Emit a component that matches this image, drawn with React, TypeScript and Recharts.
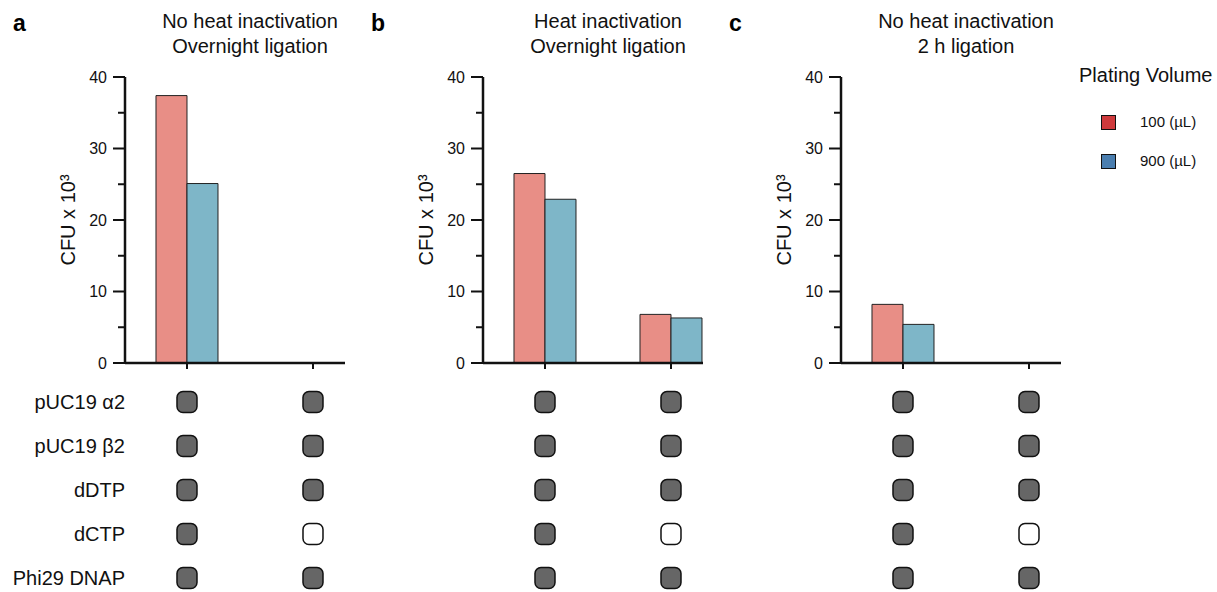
import { BarChart, Bar, XAxis, YAxis, ScatterChart, Scatter, Legend } from "recharts";

const FONT = "'Liberation Sans', Arial, Helvetica, sans-serif";

// panel headings
const panelLetters = ["a", "b", "c"];
const panelTitles = [
  ["No heat inactivation", "Overnight ligation"],
  ["Heat inactivation", "Overnight ligation"],
  ["No heat inactivation", "2 h ligation"],
];

// two reaction lanes per panel
const lanes = [0, 1];

// CFU x 10^3 by plating volume
const volume100 = [
  [37.4, 0],
  [26.5, 6.8],
  [8.2, 0],
];
const volume900 = [
  [25.1, 0],
  [22.9, 6.3],
  [5.4, 0],
];

const yTicks = [0, 5, 10, 15, 20, 25, 30, 35, 40];

// reagent matrix below the bars
const reagents = ["pUC19 α2", "pUC19 β2", "dDTP", "dCTP", "Phi29 DNAP"];
const lane1Included = [1, 1, 1, 1, 1];
const lane2Included = [1, 1, 1, 0, 1];

const legendItems = [
  { label: "100 (µL)", color: "#CF3A3C" },
  { label: "900 (µL)", color: "#4A7EAF" },
];

const X_DOMAIN = [-0.492, 1.254];
const PANEL_STEP = 358;

const YTick = (props: any) => {
  const { x, y, payload } = props;
  const major = payload.value % 10 === 0;
  return (
    <g>
      <line x1={x - (major ? 12 : 7)} x2={x} y1={y} y2={y} stroke="#111" strokeWidth={2} />
      {major && (
        <text x={x - 18} y={y} dy="0.36em" textAnchor="end" fontSize={16} fill="#111" fontFamily={FONT}>
          {payload.value}
        </text>
      )}
    </g>
  );
};

const YLabel = (props: any) => {
  const { viewBox } = props;
  const cx = viewBox.x + viewBox.width - 57;
  const cy = viewBox.y + viewBox.height / 2;
  return (
    <text
      x={cx}
      y={cy}
      transform={`rotate(-90 ${cx} ${cy})`}
      textAnchor="middle"
      dy="0.36em"
      fontSize={20}
      fill="#111"
      fontFamily={FONT}
    >
      CFU x 10³
    </text>
  );
};

const ReagentBox = (props: any) => {
  const { cx, cy, payload } = props;
  return (
    <rect
      x={cx - 10}
      y={cy - 10.5}
      width={20}
      height={21}
      rx={6}
      fill={payload.on ? "#666666" : "#ffffff"}
      stroke="#111"
      strokeWidth={1.5}
    />
  );
};

const LegendBox = () => (
  <div style={{ position: "relative", width: 160, height: 120, fontFamily: FONT, color: "#111" }}>
    <div style={{ position: "absolute", left: 0, top: 5, fontSize: 20, lineHeight: "20px", whiteSpace: "nowrap" }}>
      Plating Volume
    </div>
    {legendItems.map((it, i) => (
      <div key={it.label}>
        <div
          style={{
            position: "absolute",
            left: 22,
            top: 55 + i * 38.5,
            width: 13,
            height: 13,
            background: it.color,
            border: "1px solid #111",
          }}
        />
        <div
          style={{
            position: "absolute",
            left: 61,
            top: 53 + i * 38.5,
            fontSize: 15,
            lineHeight: "17px",
            whiteSpace: "nowrap",
          }}
        >
          {it.label}
        </div>
      </div>
    ))}
  </div>
);

function Panel({ index }: { index: number }) {
  const left = index * PANEL_STEP;
  const data = lanes.map((lane, i) => ({
    lane,
    v100: volume100[index][i],
    v900: volume900[index][i],
  }));
  const matrix = reagents.flatMap((r, i) => [
    { lane: lanes[0], reagent: r, on: lane1Included[i] },
    { lane: lanes[1], reagent: r, on: lane2Included[i] },
  ]);
  const last = index === 2;
  return (
    <>
      <div style={{ position: "absolute", left: left + 13, top: 12, fontSize: 23, fontWeight: 700, lineHeight: "23px", fontFamily: FONT }}>
        {panelLetters[index]}
      </div>
      <div
        style={{
          position: "absolute",
          left: left + 250 - 150,
          width: 300,
          top: 9,
          textAlign: "center",
          fontSize: 20,
          lineHeight: "25px",
          fontFamily: FONT,
          color: "#111",
        }}
      >
        {panelTitles[index].map((t) => (
          <div key={t}>{t}</div>
        ))}
      </div>
      <div style={{ position: "absolute", left, top: 0 }}>
        <BarChart
          width={last ? 501 : 345}
          height={380}
          data={data}
          barGap={0}
          margin={{ top: 77, right: last ? 156 : 0, bottom: 0, left: 0 }}
        >
          <XAxis
            type="number"
            dataKey="lane"
            domain={X_DOMAIN}
            allowDataOverflow
            ticks={lanes}
            height={17}
            tickSize={6}
            tickFormatter={() => ""}
            axisLine={{ stroke: "#111", strokeWidth: 2.5 }}
            tickLine={{ stroke: "#111", strokeWidth: 2 }}
          />
          <YAxis
            domain={[0, 40]}
            ticks={yTicks}
            interval={0}
            width={125}
            tickSize={0}
            tickMargin={0}
            tickLine={false}
            tick={<YTick />}
            axisLine={{ stroke: "#111", strokeWidth: 2.5 }}
            label={<YLabel />}
          />
          <Bar dataKey="v100" name="100 (µL)" barSize={31} fill="#E88E86" stroke="#222" strokeWidth={1} isAnimationActive={false} />
          <Bar dataKey="v900" name="900 (µL)" barSize={31} fill="#7EB6C8" stroke="#222" strokeWidth={1} isAnimationActive={false} />
          {last && (
            <Legend
              layout="vertical"
              align="center"
              verticalAlign="middle"
              content={<LegendBox />}
              wrapperStyle={{ left: 363, top: 60, width: 160, height: 120 }}
            />
          )}
        </BarChart>
      </div>
      <div style={{ position: "absolute", left, top: 380 }}>
        <ScatterChart width={345} height={220} margin={{ top: 0, right: 0, bottom: 0, left: 0 }}>
          <XAxis type="number" dataKey="lane" domain={X_DOMAIN} allowDataOverflow hide />
          <YAxis
            type="category"
            dataKey="reagent"
            allowDuplicatedCategory={false}
            reversed
            width={125}
            axisLine={false}
            tickLine={false}
            tickSize={0}
            tickMargin={0}
            tick={index === 0 ? { fontSize: 20, fill: "#111", fontFamily: FONT } : false}
          />
          <Scatter data={matrix} shape={<ReagentBox />} isAnimationActive={false} />
        </ScatterChart>
      </div>
    </>
  );
}

export default function App() {
  return (
    <div
      style={{
        position: "absolute",
        left: 0,
        top: 0,
        width: 1217,
        height: 592,
        overflow: "hidden",
        background: "#fff",
        fontFamily: FONT,
      }}
    >
      {[0, 1, 2].map((i) => (
        <Panel key={i} index={i} />
      ))}
    </div>
  );
}
